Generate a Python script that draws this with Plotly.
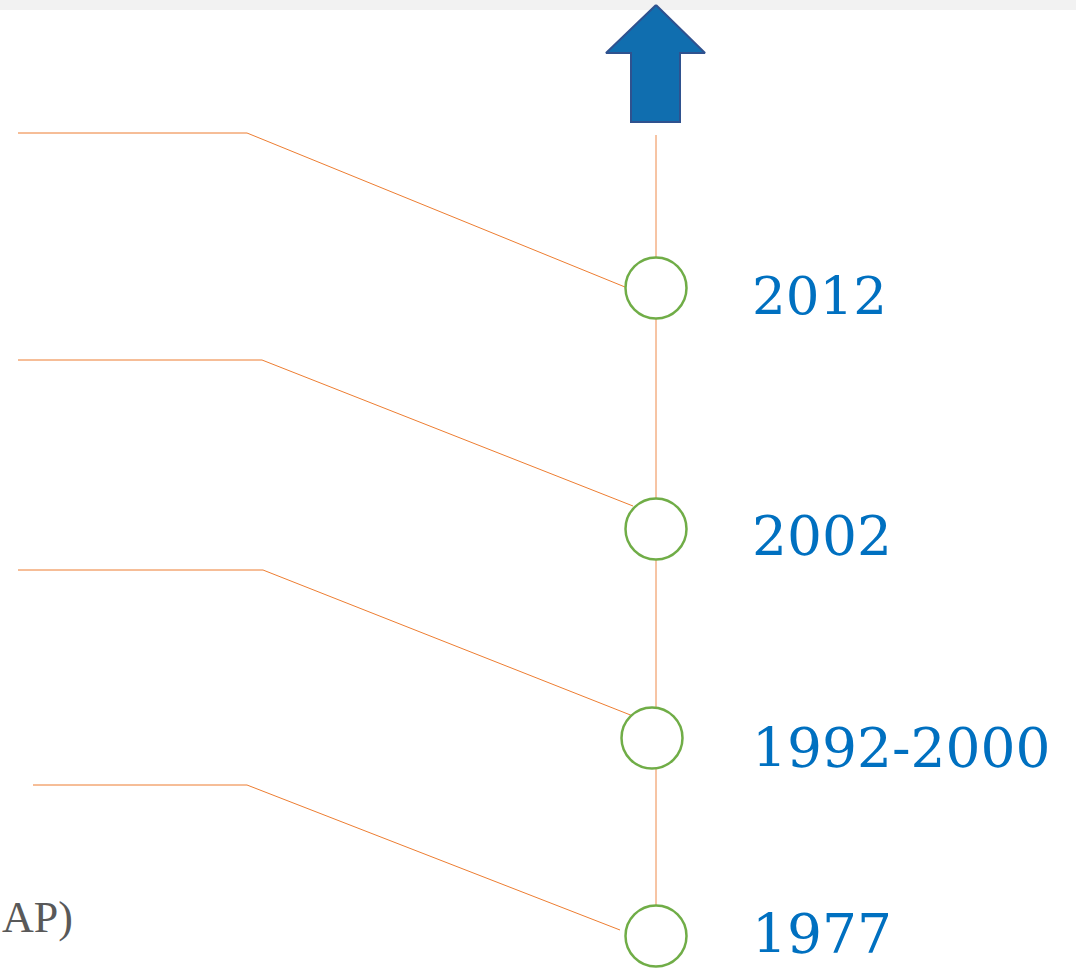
import plotly.graph_objects as go

# ---- data (pixel-space layout of the timeline) ----
years = ["2012", "2002", "1992-2000", "1977"]
year_font_size = [53, 55, 55, 55]
node_x = [656, 656, 652, 656]
node_y = [288, 529, 738, 936]
label_x = [750, 750, 750, 750]
label_y = [295, 536, 748, 934]

leader_start_x = [18, 18, 18, 33]
leader_bend_x = [247, 262, 263, 247]
leader_y = [133, 360, 570, 785]
leader_end_x = [625, 633, 633, 620]
leader_end_y = [287, 506, 716, 930]

spine_x = [656, 656]
spine_y = [135, 966]

arrow_x = [656, 606, 631, 631, 680, 680, 705, 656]
arrow_y = [5, 53, 53, 122, 122, 53, 53, 5]

side_text = "AP)"

W, H = 1076, 970
fig = go.Figure()

# top grey band
fig.add_shape(type="rect", xref="paper", yref="paper", x0=0, x1=1, y0=1 - 10 / H, y1=1,
              fillcolor="#f2f2f2", line_width=0, layer="below")

# leader lines
for i in range(len(years)):
    fig.add_trace(go.Scatter(
        x=[leader_start_x[i], leader_bend_x[i], leader_end_x[i]],
        y=[leader_y[i], leader_y[i], leader_end_y[i]],
        mode="lines", line=dict(color="#ED7D31", width=1), hoverinfo="skip"))

# spine
fig.add_trace(go.Scatter(x=spine_x, y=spine_y, mode="lines",
                         line=dict(color="#EE8A4A", width=1), hoverinfo="skip"))

# arrow
fig.add_trace(go.Scatter(x=arrow_x, y=arrow_y, mode="lines", fill="toself",
                         fillcolor="#106EAF", line=dict(color="#2F528F", width=2),
                         hoverinfo="skip"))

# nodes
fig.add_trace(go.Scatter(x=node_x, y=node_y, mode="markers",
                         marker=dict(size=61, color="white", symbol="circle",
                                     line=dict(color="#70AD47", width=2.5)),
                         hoverinfo="skip"))

# year labels
for i, t in enumerate(years):
    fig.add_annotation(x=label_x[i], y=label_y[i], text=t, showarrow=False,
                       xanchor="left", yanchor="middle",
                       font=dict(family="Georgia, 'DejaVu Serif', serif",
                                 size=year_font_size[i], color="#0070C0"))

fig.add_annotation(x=0, y=917, text=side_text, showarrow=False,
                   xanchor="left", yanchor="middle",
                   font=dict(family="Georgia, 'Liberation Serif', serif", size=44, color="#595959"))

fig.update_layout(
    width=W, height=H, margin=dict(l=0, r=0, t=0, b=0),
    paper_bgcolor="white", plot_bgcolor="white", showlegend=False,
    xaxis=dict(range=[0, W], visible=False, fixedrange=True),
    yaxis=dict(range=[H, 0], visible=False, fixedrange=True),
)

fig.write_html("out.html", config={"displayModeBar": False},
               post_script="document.body.style.margin='0';document.body.style.overflow='hidden';")
